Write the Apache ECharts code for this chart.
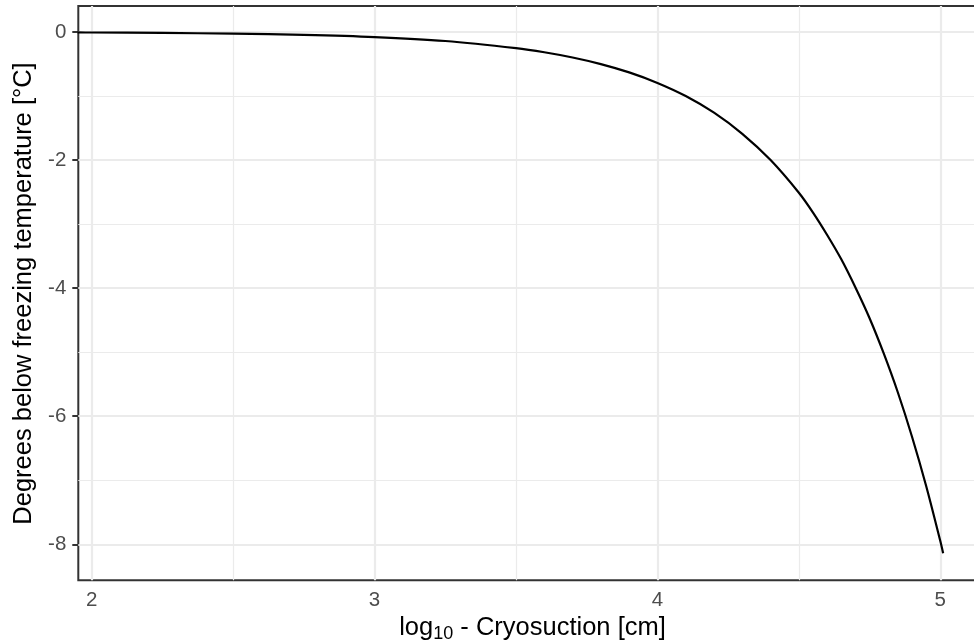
<!DOCTYPE html>
<html>
<head>
<meta charset="utf-8">
<script src="https://cdn.jsdelivr.net/npm/echarts@6/dist/echarts.min.js"></script>
<style>
  html, body { margin: 0; padding: 0; background: #ffffff; overflow: hidden; }
  #chart { width: 995px; height: 644px; }
</style>
</head>
<body>
<div id="chart"></div>
<script>
// ---- data ----
const logSuction = [1.95, 2.0, 2.25, 2.5, 2.75, 3.0, 3.25, 3.5, 3.6, 3.7, 3.8, 3.9, 4.0, 4.1, 4.2, 4.3, 4.4, 4.5, 4.55, 4.6, 4.65, 4.7, 4.75, 4.8, 4.85, 4.9, 4.95, 5.0, 5.01];
const degreesBelowFreezing = [-0.007, -0.008, -0.014, -0.026, -0.045, -0.079, -0.141, -0.252, -0.316, -0.398, -0.501, -0.631, -0.795, -1.00, -1.26, -1.59, -2.00, -2.51, -2.82, -3.17, -3.55, -3.99, -4.47, -5.02, -5.63, -6.32, -7.09, -7.95, -8.14];

const xTicks = [2, 3, 4, 5];
const xMinorTicks = [2.5, 3.5, 4.5];
const yTicks = [0, -2, -4, -6, -8];
const yMinorTicks = [-1, -3, -5, -7];

const xTitleRich = '{m|log}{s|10}{m| - Cryosuction [cm]}';
const yTitle = 'Degrees below freezing temperature [°C]';

const FONT = '"Liberation Sans", Arial, sans-serif';

const chart = echarts.init(document.getElementById('chart'), null, { renderer: 'canvas' });

const gridLines = []
  .concat(xMinorTicks.map(v => ({ xAxis: v, lineStyle: { width: 1.2 } })))
  .concat(yMinorTicks.map(v => ({ yAxis: v, lineStyle: { width: 1.2 } })))
  .concat(xTicks.map(v => ({ xAxis: v, lineStyle: { width: 2.2 } })))
  .concat(yTicks.map(v => ({ yAxis: v, lineStyle: { width: 2.2 } })));

const option = {
  backgroundColor: '#ffffff',
  animation: false,
  grid: {
    left: 78.3,
    right: 10,
    top: 6,
    bottom: 63.7,
    show: true,
    borderColor: '#333333',
    borderWidth: 2,
    backgroundColor: 'transparent',
    containLabel: false
  },
  xAxis: {
    type: 'value',
    min: 1.9526,
    max: 5.158,
    axisLine: { show: false },
    splitLine: { show: false },
    axisTick: { show: true, customValues: xTicks, length: 6, lineStyle: { color: '#333333', width: 2 } },
    axisLabel: { customValues: xTicks, color: '#4D4D4D', fontSize: 20.5, fontFamily: FONT, margin: 10 }
  },
  yAxis: {
    type: 'value',
    min: -8.5625,
    max: 0.406,
    axisLine: { show: false },
    splitLine: { show: false },
    axisTick: { show: true, customValues: yTicks, length: 6, lineStyle: { color: '#333333', width: 2 } },
    axisLabel: { customValues: yTicks, color: '#4D4D4D', fontSize: 20.5, fontFamily: FONT, margin: 12 }
  },
  graphic: [
    {
      type: 'text',
      x: 532.5,
      y: 628,
      style: {
        text: xTitleRich,
        align: 'center',
        verticalAlign: 'middle',
        fill: '#000000',
        rich: {
          m: { fontSize: 25.5, fontFamily: FONT, fill: '#000000' },
          s: { fontSize: 18, fontFamily: FONT, fill: '#000000', padding: [12, 0, 0, 0] }
        }
      }
    },
    {
      type: 'text',
      x: 24,
      y: 293.5,
      rotation: Math.PI / 2,
      style: {
        text: yTitle,
        align: 'center',
        verticalAlign: 'middle',
        fontSize: 25.5,
        fontFamily: FONT,
        fill: '#000000'
      }
    }
  ],
  series: [
    {
      name: 'grid',
      type: 'line',
      data: [],
      z: 1,
      silent: true,
      markLine: {
        silent: true,
        z: 1,
        symbol: ['none', 'none'],
        label: { show: false },
        animation: false,
        lineStyle: { color: '#EBEBEB', type: 'solid' },
        emphasis: { disabled: true },
        data: gridLines
      }
    },
    {
      name: 'curve',
      type: 'line',
      z: 6,
      data: logSuction.map((x, i) => [x, degreesBelowFreezing[i]]),
      showSymbol: false,
      symbol: 'none',
      smooth: 0.3,
      lineStyle: { color: '#000000', width: 2.2 },
      clip: true
    }
  ]
};

chart.setOption(option);
</script>
</body>
</html>
